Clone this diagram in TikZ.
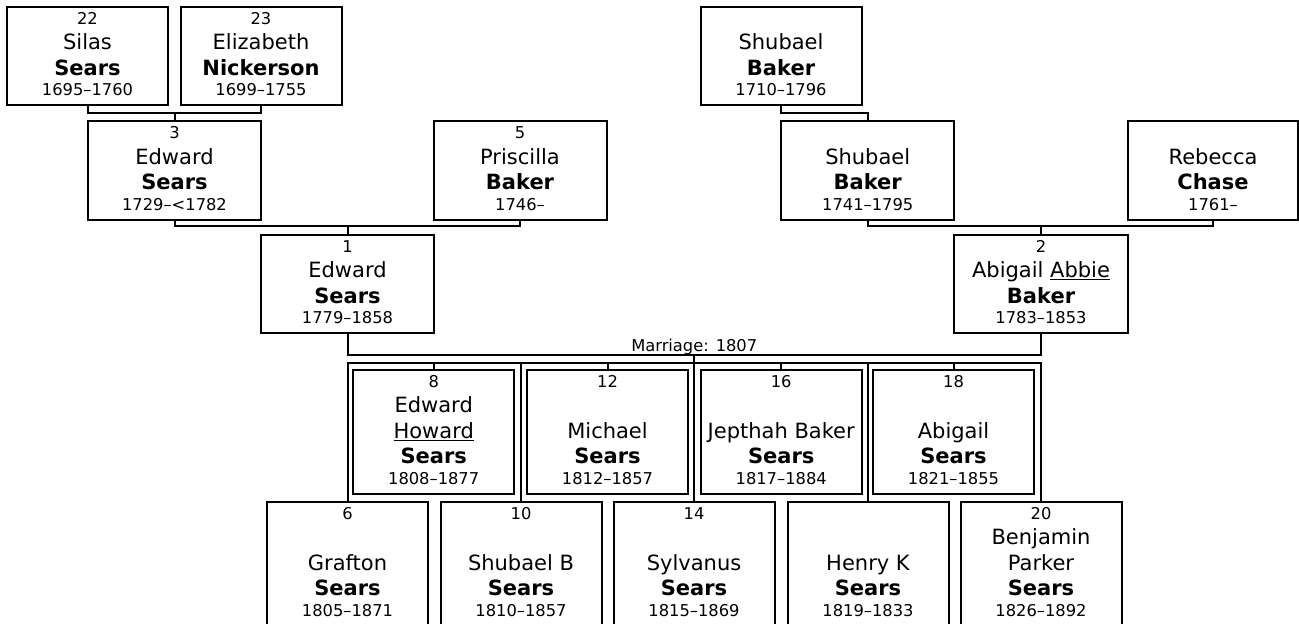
\documentclass[tikz,border=0pt]{standalone}
\usepackage{fontspec}
\setmainfont{DejaVu Sans}
\usetikzlibrary{calc}
\newdimen\pw
\newcommand\smallf{\fontsize{16.3}{19}\selectfont}
\newcommand\namef{\fontsize{21}{25}\selectfont}
\newcommand\gline[1]{\hbox to \pw{\hss\namef\vrule height 25.5pt depth 0pt width 0pt \smash{#1}\hss}}
\newcommand\pcont[6]{\pw=#1\relax\vbox to #2{\offinterlineskip
 \hbox to \pw{\hss\smallf\vrule height 17pt depth 0pt width 0pt \smash{#3}\hss}
 \vfill #4
 \hbox to \pw{\hss\namef\bfseries\vrule height 25.5pt depth 0pt width 0pt \smash{#5}\hss}
 \hbox to \pw{\hss\smallf\vrule height 20.5pt depth 10pt width 0pt \smash{#6}\hss}\kern0pt}}
\newcommand\person[9]{\node[pbox] (#1) at (#2,#3) {\pcont{#4pt}{#5pt}{#6}{#7}{#8}{#9}};}
\tikzset{
  pbox/.style={draw, line width=2pt, inner sep=0pt, outer sep=0pt, fill=white},
  conn/.style={draw, line width=2pt},
  lbl/.style={font=\smallf, inner sep=0pt}
}
\begin{document}
\begin{tikzpicture}[x=1pt, y=-1pt]
\useasboundingbox (0,0) rectangle (1299,624);
\clip (0,0) rectangle (1299,624);
% great-grandparents
\person{s22}{87.5}{56}{161}{98}{22}{\gline{Silas}}{Sears}{1695–1760}
\person{s23}{261}{56}{161}{98}{23}{\gline{Elizabeth}}{Nickerson}{1699–1755}
\person{b1}{781}{56}{161}{98}{}{\gline{Shubael}}{Baker}{1710–1796}
% grandparents
\person{p3}{174.5}{170.5}{173}{99}{3}{\gline{Edward}}{Sears}{1729–<1782}
\person{p5}{520}{170.5}{173}{99}{5}{\gline{Priscilla}}{Baker}{1746–}
\person{b2}{867.7}{170.5}{173}{99}{}{\gline{Shubael}}{Baker}{1741–1795}
\person{r1}{1213}{170.5}{170}{99}{}{\gline{Rebecca}}{Chase}{1761–}
% parents
\person{p1}{347.5}{284}{173}{98}{1}{\gline{Edward}}{Sears}{1779–1858}
\person{p2}{1041}{284}{174}{98}{2}{\gline{Abigail \underline{Abbie}}}{Baker}{1783–1853}
% children, upper row
\person{c8}{433.7}{432}{161}{124}{8}{\gline{Edward}\gline{\underline{Howard}}}{Sears}{1808–1877}
\person{c12}{607.5}{432}{161}{124}{12}{\gline{Michael}}{Sears}{1812–1857}
\person{c16}{781.2}{432}{161}{124}{16}{\gline{Jepthah Baker}}{Sears}{1817–1884}
\person{c18}{953.5}{432}{161}{124}{18}{\gline{Abigail}}{Sears}{1821–1855}
% children, lower row
\person{c6}{347.5}{564}{161}{124}{6}{\gline{Grafton}}{Sears}{1805–1871}
\person{c10}{521}{564}{161}{124}{10}{\gline{Shubael B}}{Sears}{1810–1857}
\person{c14}{694}{564}{161}{124}{14}{\gline{Sylvanus}}{Sears}{1815–1869}
\person{c17}{868}{564}{161}{124}{}{\gline{Henry K}}{Sears}{1819–1833}
\person{c20}{1041}{564}{161}{124}{20}{\gline{Benjamin}\gline{Parker}}{Sears}{1826–1892}
% connectors
\draw[conn] (s22.south) -- ++(0,8) -| (s23.south);
\draw[conn] (p3.north) -- ++(0,-8);
\draw[conn] (b1.south) -- ++(0,8) -| (b2.north);
\draw[conn] (p3.south) -- ++(0,6) -| (p5.south);
\draw[conn] (p1.north) -- ++(0,-9);
\draw[conn] (b2.south) -- ++(0,6) -| (r1.south);
\draw[conn] (p2.north) -- ++(0,-9);
\coordinate (mar) at ($(p1.south)+(0,22)$);
\draw[conn] (p1.south) -- (mar) -| (p2.south);
\node[lbl, anchor=base] (mlab) at ($(p1.south)!0.5!(p2.south)+(0,18)$) {Marriage: 1807};
\coordinate (bar) at (694,363);
\draw[conn] (c6.north) -- (c6.north |- bar) -- (c20.north |- bar) -- (c20.north);
\draw[conn] (c10.north) -- (c10.north |- bar);
\draw[conn] (c17.north) -- (c17.north |- bar);
\draw[conn] (c14.north) -- (c14.north |- mar);
\draw[conn] (c8.north) -- (c8.north |- bar);
\draw[conn] (c12.north) -- (c12.north |- bar);
\draw[conn] (c16.north) -- (c16.north |- bar);
\draw[conn] (c18.north) -- (c18.north |- bar);
\end{tikzpicture}
\end{document}
